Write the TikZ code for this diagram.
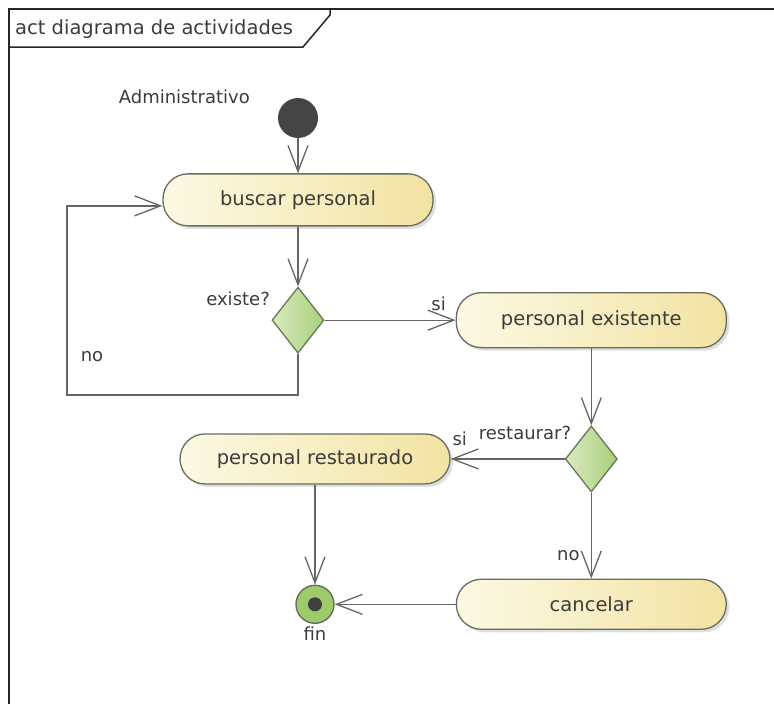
\documentclass[tikz,border=0pt]{standalone}
\usepackage{fontspec}
\setmainfont{DejaVu Sans}
\usetikzlibrary{shapes.geometric, arrows.meta, positioning, shadows}
\definecolor{actleft}{HTML}{FCF9E4}
\definecolor{actright}{HTML}{F2E3A2}
\definecolor{decleft}{HTML}{DAEAC0}
\definecolor{decright}{HTML}{A7CF78}
\definecolor{finfill}{HTML}{9DCB6B}
\definecolor{linegray}{HTML}{666666}
\definecolor{bordergray}{HTML}{6B6B5E}
\definecolor{textgray}{HTML}{3C3C3C}
\tikzset{
  activity/.style={
    rectangle, rounded corners=25pt,
    minimum width=270pt, minimum height=52pt,
    text centered, align=center, draw=bordergray, line width=1.3pt,
    left color=actleft, right color=actright,
    drop shadow={shadow xshift=3pt, shadow yshift=-3pt, opacity=0.25},
    font=\fontsize{19.5}{23}\selectfont, text=textgray
  },
  decision/.style={
    diamond, inner sep=0pt,
    minimum width=52pt, minimum height=66pt,
    draw=bordergray!90!green, line width=1.3pt,
    left color=decleft, right color=decright
  },
  initial/.style={
    circle, inner sep=0pt, minimum size=40pt, fill=black!73
  },
  final/.style={
    circle, inner sep=0pt, minimum size=38pt,
    draw=bordergray, line width=1.4pt, fill=finfill,
    path picture={\fill[black!75] (path picture bounding box.center) circle (7pt);}
  },
  lbl/.style={font=\fontsize{18}{22}\selectfont, text=textgray, inner sep=1pt},
  arrow/.style={-{Straight Barb[length=26pt, width=20pt]}, line width=1.3pt, draw=linegray},
}

\begin{document}
\begin{tikzpicture}[x=1pt, y=-1pt]
\useasboundingbox (0,0) rectangle (774,704);

% --- Frame ---
\draw[line width=1.5pt, black!85] (9,704) -- (9,9) -- (774,9);
\draw[line width=1.5pt, black!85] (9,47) -- (303,47) -- (330,15) -- (330,9);
\node[lbl, anchor=west, font=\fontsize{19.5}{23}\selectfont] (title) at (14,29) {act diagrama de actividades};

% --- Start ---
\node[initial] (start) at (298,118) {};
\node[lbl, anchor=east] (actor) at (251,97) {Administrativo};

% --- Activities and decisions ---
\node[activity, below=35pt of start] (buscar) {buscar personal};
\node[decision, below=60pt of buscar] (existe) {};
\node[activity, right=131pt of existe, minimum height=55pt] (existente) {personal existente};
\node[decision, below=77pt of existente] (restaurar) {};
\node[activity, left=114pt of restaurar, minimum height=50pt] (restaurado) {personal restaurado};
\node[activity, below=86pt of restaurar, minimum height=50pt] (cancelar) {cancelar};
\node[final, below=100pt of restaurado] (fin) {};
\node[lbl, below=2pt of fin] (finlbl) {fin};

% --- Decision labels ---
\node[lbl, anchor=east] (existelbl) at ([xshift=-27pt, yshift=-12pt]existe.north) {existe?};
\node[lbl, anchor=east] (restaurarlbl) at ([xshift=-19pt, yshift=-8pt]restaurar.north) {restaurar?};
\coordinate (loop) at (67,395);
\node[lbl] (nolbl) at ([xshift=25pt, yshift=38pt]loop) {no};

% --- Flow ---
\draw[arrow] (start) -- (buscar);
\draw[arrow] (buscar) -- (existe);
\draw[arrow] (existe.east) -- node[lbl, pos=0.87, above=8pt]{si} (existente.west);
\draw[arrow] (existe.south) |- (loop) |- ([yshift=-6pt]buscar.west);
\draw[arrow] (existente) -- (restaurar);
\draw[arrow] (restaurar.west) -- node[lbl, pos=0.92, above=12pt]{si} (restaurado.east);
\draw[arrow] (restaurar.south) -- node[lbl, pos=0.73, left=10pt]{no} (cancelar.north);
\draw[arrow] (restaurado) -- (fin);
\draw[arrow] (cancelar.west |- fin) -- (fin.east);

\end{tikzpicture}
\end{document}
